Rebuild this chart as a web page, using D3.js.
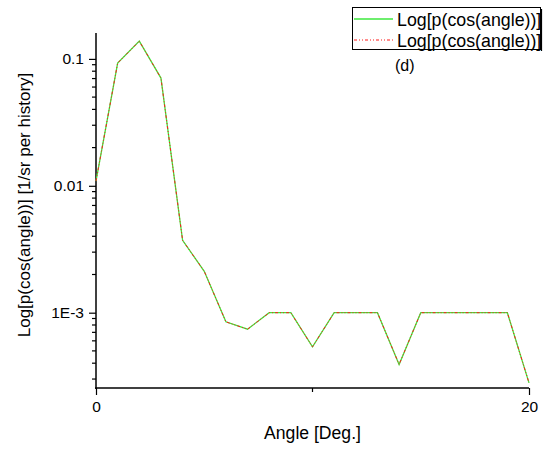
<!DOCTYPE html>
<html>
<head>
<meta charset="utf-8">
<script src="https://cdn.jsdelivr.net/npm/d3@7"></script>
<style>
  html, body { margin: 0; padding: 0; background: #fff; }
  svg { display: block; font-family: "Liberation Sans", Arial, sans-serif; }
</style>
</head>
<body>
<svg id="chart" width="547" height="450"></svg>
<script>
// Angular distribution, one value per degree
const angles = [0, 1, 2, 3, 4, 5, 6, 7, 8, 9, 10, 11, 12, 13, 14, 15, 16, 17, 18, 19, 20];
const seriesA = [0.0109, 0.0927, 0.138, 0.0706, 0.00372, 0.00212, 0.000847, 0.000741, 0.001, 0.001,
                 0.000538, 0.001, 0.001, 0.001, 0.000391, 0.001, 0.001, 0.001, 0.001, 0.001, 0.00028];
const seriesB = seriesA.slice();
const xTickValues = [0, 20];
const xMinorTicks = [10];
const yTickValues = [0.001, 0.01, 0.1];
const yTickLabels = ["1E-3", "0.01", "0.1"];
const legendLabels = ["Log[p(cos(angle))]", "Log[p(cos(angle))]"];
const panelLabel = "(d)";

const svg = d3.select("#chart");
const plot = { left: 96, right: 529, top: 33, bottom: 388 };

const x = d3.scaleLinear().domain([0, 20]).range([plot.left, plot.right]);
const y = d3.scaleLog().domain([2.55e-4, 0.16]).range([plot.bottom, plot.top]);

// Minor ticks on the log axis (2..9 of each decade)
const yMinor = [];
for (let e = -4; e <= -1; e++) {
  for (let m = 2; m <= 9; m++) {
    const v = m * Math.pow(10, e);
    if (v >= y.domain()[0] && v <= y.domain()[1]) yMinor.push(v);
  }
}

const axisColor = "#000";
const font = "Liberation Sans, Arial, sans-serif";

// Y axis
const yAxis = svg.append("g").attr("transform", `translate(${plot.left},0)`);
yAxis.call(d3.axisLeft(y).tickValues(yTickValues)
  .tickFormat((d, i) => yTickLabels[i]).tickSize(7).tickSizeOuter(0))
  .call(g => g.select(".domain").remove());
yAxis.selectAll(".tick line").attr("stroke", axisColor).attr("stroke-width", 1.2);
yAxis.selectAll(".tick text").attr("font-size", 15.5).attr("fill", "#000")
  .attr("font-family", font).attr("x", -12);
yAxis.selectAll(".minor").data(yMinor).enter().append("line")
  .attr("class", "minor").attr("x1", -4).attr("x2", 0)
  .attr("y1", d => y(d)).attr("y2", d => y(d))
  .attr("stroke", axisColor).attr("stroke-width", 1.2);
yAxis.append("line").attr("x1", 0).attr("x2", 0)
  .attr("y1", plot.top).attr("y2", plot.bottom + 1)
  .attr("stroke", axisColor).attr("stroke-width", 1.5);

// X axis
const xAxis = svg.append("g").attr("transform", `translate(0,${plot.bottom})`);
xAxis.call(d3.axisBottom(x).tickValues(xTickValues).tickFormat(d3.format("d"))
  .tickSize(7).tickSizeOuter(0))
  .call(g => g.select(".domain").remove());
xAxis.selectAll(".tick line").attr("stroke", axisColor).attr("stroke-width", 1.2);
xAxis.selectAll(".tick text").attr("font-size", 15.5).attr("fill", "#000")
  .attr("font-family", font).attr("y", 13);
xAxis.selectAll(".xminor").data(xMinorTicks).enter().append("line")
  .attr("class", "xminor").attr("x1", d => x(d)).attr("x2", d => x(d))
  .attr("y1", 0).attr("y2", 4).attr("stroke", axisColor).attr("stroke-width", 1.2);
xAxis.append("line").attr("x1", plot.left - 1).attr("x2", plot.right)
  .attr("y1", 0).attr("y2", 0).attr("stroke", axisColor).attr("stroke-width", 1.5);

// Axis titles
svg.append("text")
  .attr("x", (plot.left + plot.right) / 2).attr("y", 439)
  .attr("text-anchor", "middle").attr("font-size", 17.6).attr("fill", "#000")
  .text("Angle [Deg.]");
svg.append("text")
  .attr("transform", "translate(30,205) rotate(-90)")
  .attr("text-anchor", "middle").attr("font-size", 17).attr("fill", "#000")
  .text("Log[p(cos(angle))] [1/sr per history]");

// Series lines
const line = d3.line().x((d, i) => x(angles[i])).y(d => y(d));
svg.append("path").datum(seriesA).attr("d", line)
  .attr("fill", "none").attr("stroke", "#3ee83e").attr("stroke-width", 1.3);
svg.append("path").datum(seriesB).attr("d", line)
  .attr("fill", "none").attr("stroke", "#ff1a1a").attr("stroke-width", 1)
  .attr("stroke-dasharray", "3,2,1,2,1,2");

// Legend
const legend = svg.append("g");
legend.append("rect").attr("x", 352.5).attr("y", 7.5).attr("width", 188).attr("height", 42)
  .attr("fill", "#fff").attr("stroke", "#000").attr("stroke-width", 1);
legend.append("line").attr("x1", 541.5).attr("x2", 541.5).attr("y1", 9).attr("y2", 51)
  .attr("stroke", "#000").attr("stroke-width", 1.2);
const legendStyles = [
  { stroke: "#3ee83e", width: 1.3, dash: null },
  { stroke: "#ff1a1a", width: 1, dash: "3,2,1,2,1,2" }
];
legendLabels.forEach((lab, i) => {
  const ly = 19 + i * 21;
  legend.append("line").attr("x1", 354).attr("x2", 393).attr("y1", ly).attr("y2", ly)
    .attr("stroke", legendStyles[i].stroke).attr("stroke-width", legendStyles[i].width)
    .attr("stroke-dasharray", legendStyles[i].dash);
  legend.append("text").attr("x", 397).attr("y", ly + 6.5)
    .attr("font-size", 17.8).attr("fill", "#000").text(lab);
});
svg.append("text").attr("x", 395).attr("y", 71).attr("font-size", 16).attr("fill", "#000")
  .text(panelLabel);
</script>
</body>
</html>
